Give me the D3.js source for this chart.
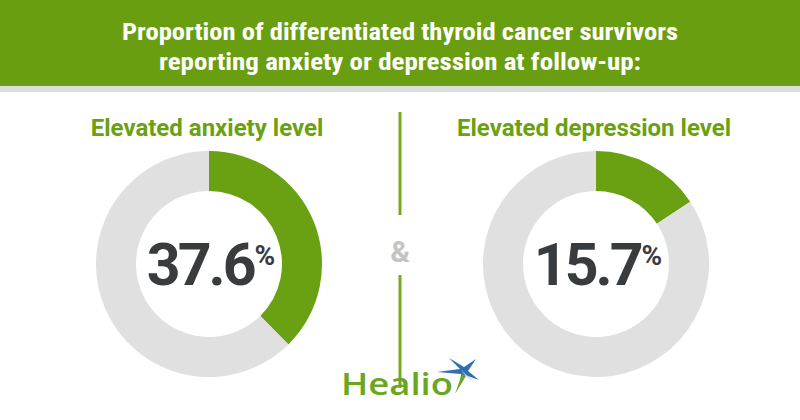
<!DOCTYPE html>
<html>
<head>
<meta charset="utf-8">
<script src="https://cdn.jsdelivr.net/npm/d3@7"></script>
<style>
  html, body { margin: 0; padding: 0; background: #fff; }
  svg { display: block; }
</style>
</head>
<body>
<div id="chart"></div>
<script>
const width = 800;
const height = 420;

const titleLines = [
  "Proportion of differentiated thyroid cancer survivors",
  "reporting anxiety or depression at follow-up:"
];
const categories = ["Elevated anxiety level", "Elevated depression level"];
const values = [37.6, 15.7];

const colors = {
  header: "#6a9e11",
  band: "#dddddd",
  green: "#6aa112",
  grey: "#e0e0e0",
  number: "#383c3f",
  amp: "#c4c4c4",
  divider: "#74a826"
};

const svg = d3.select("#chart")
  .append("svg")
  .attr("width", width)
  .attr("height", height);

// header
svg.append("rect")
  .attr("width", width)
  .attr("height", 86)
  .attr("fill", colors.header);

svg.append("rect")
  .attr("y", 86)
  .attr("width", width)
  .attr("height", 6)
  .attr("fill", colors.band);

const titleWidths = [556, 482];
svg.selectAll(".title")
  .data(titleLines)
  .join("text")
  .attr("class", "title")
  .attr("x", width / 2)
  .attr("y", (d, i) => 40 + i * 30)
  .attr("text-anchor", "middle")
  .attr("fill", "#fff")
  .attr("font-family", "'Roboto Condensed', 'Liberation Sans Narrow', 'DejaVu Sans Condensed', sans-serif")
  .attr("font-weight", "bold")
  .attr("font-size", 24)
  .attr("textLength", (d, i) => titleWidths[i])
  .attr("lengthAdjust", "spacingAndGlyphs")
  .text(d => d);

// donuts
const x = d3.scalePoint()
  .domain(categories)
  .range([209, 596]);

const outerR = 113;
const innerR = 73;
const cy = 264;

const pie = d3.pie().sort(null).value(d => d);
const arc = d3.arc().innerRadius(innerR).outerRadius(outerR);

const groups = svg.selectAll(".donut")
  .data(categories.map((c, i) => ({ category: c, value: values[i] })))
  .join("g")
  .attr("class", "donut")
  .attr("transform", d => `translate(${x(d.category)}, ${cy})`);

groups.selectAll("path")
  .data(d => pie([d.value, 100 - d.value]))
  .join("path")
  .attr("d", arc)
  .attr("fill", (d, i) => i === 0 ? colors.green : colors.grey);

groups.append("text")
  .attr("x", -2)
  .attr("y", -128)
  .attr("text-anchor", "middle")
  .attr("fill", colors.green)
  .attr("font-family", "Roboto, sans-serif")
  .attr("font-weight", "bold")
  .attr("font-size", 24)
  .text(d => d.category);

const num = groups.append("text")
  .attr("x", 2)
  .attr("y", 21)
  .attr("text-anchor", "middle")
  .attr("fill", colors.number)
  .attr("font-family", "Roboto, sans-serif")
  .attr("font-weight", "bold")
  .attr("font-size", 59)
  .attr("letter-spacing", -3);

num.append("tspan")
  .text(d => d.value.toFixed(1));

num.append("tspan")
  .attr("font-size", 28)
  .attr("letter-spacing", 0)
  .attr("dx", 1)
  .attr("dy", -20)
  .text("%");

// divider and ampersand
svg.append("line")
  .attr("x1", 400).attr("x2", 400)
  .attr("y1", 112).attr("y2", 215)
  .attr("stroke", colors.divider)
  .attr("stroke-width", 3);

svg.append("line")
  .attr("x1", 400).attr("x2", 400)
  .attr("y1", 275).attr("y2", 388)
  .attr("stroke", colors.divider)
  .attr("stroke-width", 3);

svg.append("text")
  .attr("x", 400)
  .attr("y", 262)
  .attr("text-anchor", "middle")
  .attr("fill", colors.amp)
  .attr("font-family", "Roboto, sans-serif")
  .attr("font-weight", "bold")
  .attr("font-size", 30)
  .text("&");

// Healio logo
svg.append("text")
  .attr("x", 341)
  .attr("y", 395)
  .attr("fill", "#6aa61e")
  .attr("font-family", "'Open Sans', sans-serif")
  .attr("font-weight", 600)
  .attr("font-size", 30)
  .attr("textLength", 112)
  .attr("lengthAdjust", "spacingAndGlyphs")
  .text("Healio");

const logo = svg.append("g")
  .attr("transform", "translate(463, 372)");

logo.append("path")
  .attr("d", "M-26,0 L-3,-3 L-14,-14 L1,-5 L13,-13 L5,-1 L16,8 L2,3 L-3,12 L-2,2 Z")
  .attr("fill", "#2d6fb3");

logo.append("path")
  .attr("d", "M-2,-2 L15,13 L1,2 Z")
  .attr("fill", "#9cc8ea");

logo.append("path")
  .attr("d", "M-1,2 L3,4 L-8,22 Z")
  .attr("fill", "#6aa61e");
</script>
</body>
</html>
